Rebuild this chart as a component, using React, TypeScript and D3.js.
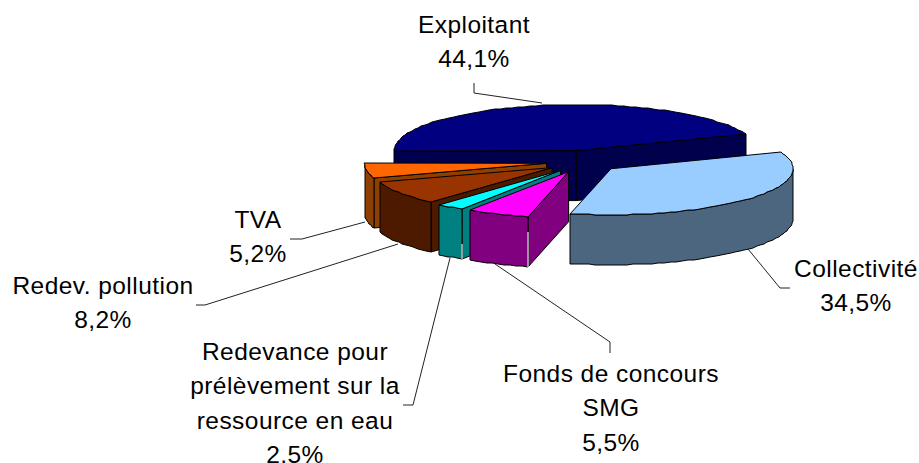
import React from "react";
import * as d3 from "d3";

const names = ["Exploitant", "Collectivité", "Fonds de concours SMG", "Redevance pour prélèvement sur la ressource en eau", "Redev. pollution", "TVA"];
const values = [44.1, 34.5, 5.5, 2.5, 8.2, 5.2];
const topColors = ["#000080", "#99ccff", "#ff00ff", "#00ffff", "#993300", "#ff6600"];
const wallColors = ["#00004d", "#4d6680", "#800080", "#008080", "#4d1a00", "#8f4000"];

const labelLines = [
  ["Exploitant", "44,1%"],
  ["Collectivité", "34,5%"],
  ["Fonds de concours", "SMG", "5,5%"],
  ["Redevance pour", "prélèvement sur la", "ressource en eau", "2,5%"],
  ["Redev. pollution", "8,2%"],
  ["TVA", "5,2%"],
];
const labelPos: [number, number][] = [[474, 33], [856, 277], [611, 382], [295, 360], [103, 294], [258, 228]];
const leaders: [number, number][][] = [
  [[474, 83], [474, 93], [542, 103]],
  [[748, 249], [780, 288], [790, 288]],
  [[495, 264], [610, 342], [610, 353]],
  [[450, 258], [413, 405], [403, 405]],
  [[398, 244], [205, 305], [196, 305]],
  [[365, 222], [302, 239], [290, 239]],
];
// share of the front corner edge that renders pale, as in the reference
const paleCorner = [0, 0, 0.7, 0.3, 0, 0];

const W = 919, H = 463;
const cx = 583, cy = 161.5, rx = 182, ry = 46, depth = 50, explode = 37, explodeY = 0.3;
const drawOrder = [0, 5, 4, 3, 2, 1];

export default function App() {
  const arcs = d3.pie<number>().value((d) => d).sort(null)
    .startAngle(-Math.PI / 2).endAngle((3 * Math.PI) / 2)(values);
  const line = d3.line();

  const slices = drawOrder.map((i) => {
    const a = arcs[i];
    const mid = (a.startAngle + a.endAngle) / 2;
    const ax = cx + explode * Math.sin(mid);
    const ay = cy - explode * explodeY * Math.cos(mid);
    const pt = (t: number): [number, number] => [
      Math.round(ax + rx * Math.sin(t)),
      Math.round(ay - ry * Math.cos(t)),
    ];
    const down = ([x, y]: [number, number]): [number, number] => [x, y + depth];
    const apex: [number, number] = [ax, ay];
    const s = pt(a.startAngle), e = pt(a.endAngle);
    const n = Math.ceil((a.endAngle - a.startAngle) / 0.035);
    const samples = d3.range(n + 1).map((k) => a.startAngle + ((a.endAngle - a.startAngle) * k) / n);
    const arcPts = samples.map(pt);
    const top = line([apex, ...arcPts])! + "Z";
    const front = samples.filter((t) => Math.cos(t) <= 0.0).map(pt);
    const outer = front.length > 1 ? line([...front, ...front.slice().reverse().map(down)])! + "Z" : null;
    const walls: string[] = [];
    if (-Math.cos(a.endAngle + Math.PI / 2) > 0) walls.push(line([apex, e, down(e), down(apex)])! + "Z");
    if (-Math.cos(a.startAngle - Math.PI / 2) > 0) walls.push(line([apex, s, down(s), down(apex)])! + "Z");
    const pale = paleCorner[i] > 0
      ? line([[s[0], s[1] + depth * (1 - paleCorner[i])], down(s)])!
      : null;
    return { i, top, outer, walls, pale };
  });

  return (
    <svg width={W} height={H} viewBox={`0 0 ${W} ${H}`} style={{ position: "absolute", left: 0, top: 0 }}>
      <rect width={W} height={H} fill="#fff" />
      {slices.map((s) => (
        <g key={s.i} stroke="#000" strokeWidth={1} strokeLinejoin="round">
          {s.walls.map((d, j) => <path key={j} d={d} fill={wallColors[s.i]} />)}
          {s.outer && <path d={s.outer} fill={wallColors[s.i]} />}
          <path d={s.top} fill={topColors[s.i]} />
          {s.pale && <path d={s.pale} fill="none" stroke="#c4c4c4" strokeWidth={1.5} />}
        </g>
      ))}
      {leaders.map((l, i) => (
        <path key={i} d={line(l)!} fill="none" stroke="#222" strokeWidth={1} />
      ))}
      {labelLines.map((lines, i) => (
        <text key={i} textAnchor="middle" fontFamily="'Liberation Sans', Arial, sans-serif" fontSize={24.5} letterSpacing={0.45} fill="#000">
          {lines.map((t, j) => (
            <tspan key={j} x={labelPos[i][0]} y={labelPos[i][1] + j * 34.3}>{t}</tspan>
          ))}
        </text>
      ))}
    </svg>
  );
}
